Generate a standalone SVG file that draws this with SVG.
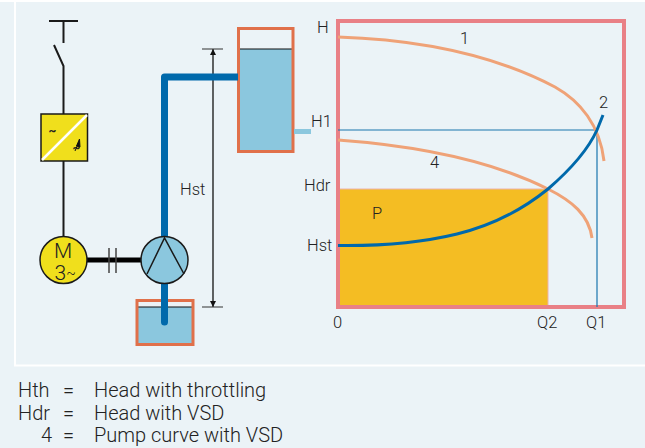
<svg xmlns="http://www.w3.org/2000/svg" width="645" height="448" viewBox="0 0 645 448">
<style>
text{font-family:Roboto,"Liberation Sans",Arial,sans-serif;font-weight:300;fill:#222;font-size:16.500px}
.lg{font-size:20px}
.m{text-anchor:middle}
.k{fill:none;stroke:#1a1a1a;stroke-width:2}
.tank{stroke:#e0704a;stroke-width:3;fill:none}
.water{fill:#8bc7de}
.pipe{fill:none;stroke:#0069ab;stroke-width:7}
.or{fill:none;stroke:#efa277;stroke-width:3}
</style>
<defs>
<marker id="ah" viewBox="0 0 10 10" refX="10" refY="5" markerWidth="6" markerHeight="8" orient="auto-start-reverse" markerUnits="userSpaceOnUse"><path d="M0,0L10,5L0,10Z" fill="#111"/></marker>
</defs>
<rect width="645" height="448" fill="#ebf3f7"/>
<path d="M15,0V365.500H645" fill="none" stroke="#fff" stroke-width="2"/>
<rect x="0" y="0" width="645" height="2" fill="#fff"/>
<g id="connectors">
<path class="k" d="M49,21H78M63.500,21V43M54,45L63.500,66V114M63.500,161V237"/>
<path d="M87,260H141" stroke="#000" stroke-width="5" fill="none"/>
<path d="M109,248V273M116,248V273" stroke="#444" stroke-width="1.500" fill="none"/>
<path d="M213,49V307" stroke="#111" stroke-width="1.300" marker-start="url(#ah)" marker-end="url(#ah)" fill="none"/>
<path d="M202,49H223M202,307H223" stroke="#333" stroke-width="1.200" fill="none"/>
</g>
<g id="upper-tank">
<rect class="water" x="238" y="49" width="55" height="102"/>
<path d="M238,49H293" stroke="#111" stroke-width="1.200"/>
<rect class="tank" x="238.500" y="28.500" width="54.500" height="123"/>
<rect class="water" x="294" y="129" width="17" height="5"/>
</g>
<g id="lower-tank">
<rect class="water" x="137" y="307" width="56" height="37"/>
<path d="M137,307H193" stroke="#111" stroke-width="1.200"/>
<rect class="tank" x="137" y="300.500" width="56" height="44"/>
</g>
<g id="pipe">
<path class="pipe" d="M164.500,238V77H238" stroke-linejoin="round"/>
<path class="pipe" d="M164.500,284V322" stroke-linecap="round"/>
</g>
<g id="converter">
<rect x="41" y="114" width="46.500" height="47" fill="#f0df1c" stroke="#1a1a1a" stroke-width="1.500"/>
<path d="M42,160L87,115" stroke="#fff" stroke-width="2.500"/>
<text class="m" x="52.500" y="134.500" style="font-size:12px;font-weight:700">~</text>
<text class="m" x="76.500" y="152" style="font-size:12px;font-weight:700">~</text>
<path d="M75,151L78,144M79.500,139L76.500,146L80,147Z" fill="#111" stroke="#111"/>
</g>
<g id="motor">
<circle cx="63.500" cy="260" r="23.500" fill="#f0df1c" stroke="#1a1a1a" stroke-width="1.500"/>
<text class="m" x="63" y="258" style="font-size:21px">M</text>
<text x="54.500" y="280" style="font-size:21px">3<tspan style="font-size:14px" dy="-2">~</tspan></text>
</g>
<g id="pump">
<circle cx="164.500" cy="260" r="23.500" fill="#8bc7de" stroke="#1a1a1a" stroke-width="1.500"/>
<path d="M147,274L164.500,238L184,274" fill="none" stroke="#1a1a1a" stroke-width="1.500"/>
</g>
<g id="chart">
<rect x="338" y="189" width="210" height="117" fill="#f4bd23" stroke="#eeb3ab" stroke-width="1"/>
<rect x="338" y="21" width="286" height="286" fill="none" stroke="#e98086" stroke-width="4"/>
<path d="M338,130H597V307" fill="none" stroke="#1a76ae" stroke-width="1.200"/>
<path class="or" d="M338,37C430,40 500,58 555,87C580,101 600,125 604,161"/>
<path class="or" d="M338,140C420,146 490,160 548,189C572,201 589,215 592,238"/>
<path d="M338,245.500C375,246 420,243 457,234C490,226 522,210 548,189C570,170 587,152 597,130L603,115" fill="none" stroke="#0069ab" stroke-width="3"/>
</g>
<g id="labels">
<text x="180" y="195">Hst</text>
<text x="317" y="33">H</text>
<text x="460" y="44">1</text>
<text x="599" y="108">2</text>
<text x="311" y="127">H1</text>
<text x="430" y="168">4</text>
<text x="304" y="191">Hdr</text>
<text x="307" y="251">Hst</text>
<text x="372" y="219">P</text>
<text x="333" y="328">0</text>
<text x="537" y="328">Q2</text>
<text x="586" y="328">Q1</text>
<text class="lg" x="18" y="397">Hth</text>
<text class="lg" x="63" y="397">=</text>
<text class="lg" x="94" y="397">Head with throttling</text>
<text class="lg" x="18" y="419.500">Hdr</text>
<text class="lg" x="63" y="419.500">=</text>
<text class="lg" x="94" y="419.500">Head with VSD</text>
<text class="lg" x="41" y="442">4</text>
<text class="lg" x="63" y="442">=</text>
<text class="lg" x="94" y="442">Pump curve with VSD</text>
</g>
</svg>
